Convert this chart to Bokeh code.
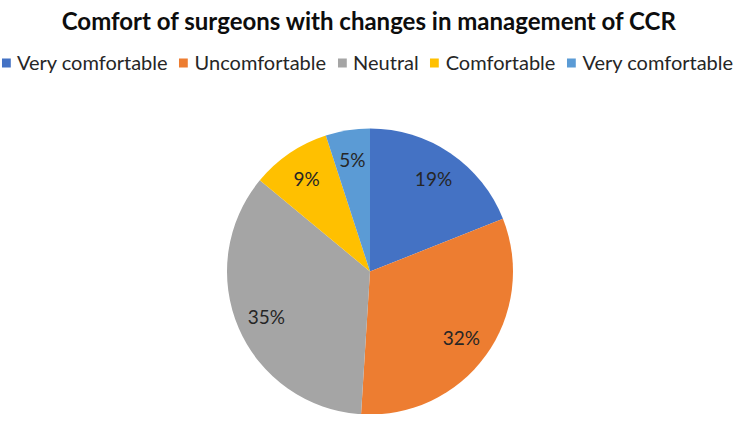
import numpy as np
from bokeh.plotting import figure
from bokeh.models import ColumnDataSource, Legend, LegendItem, Range1d
from bokeh.core.properties import value
from bokeh.embed import file_html
from bokeh.resources import INLINE

title_text = "Comfort of surgeons with changes in management of CCR"
categories = ["Very comfortable", "Uncomfortable", "Neutral", "Comfortable", "Very comfortable"]
percent = [19, 32, 35, 9, 5]
colors = ["#4472C4", "#ED7D31", "#A5A5A5", "#FFC000", "#5B9BD5"]

W, H = 733, 414
p = figure(width=W, height=H, output_backend="svg", toolbar_location=None,
           x_range=Range1d(0, W), y_range=Range1d(0, H), min_border=0)
p.axis.visible = False
p.grid.visible = False
p.outline_line_color = None


def fx(xr):
    return xr


def fy(yr):
    return H - yr


cx, cy, r = fx(369.5), fy(271), 143
frac = np.array(percent, dtype=float) / sum(percent)
cum = np.concatenate([[0.0], np.cumsum(frac)])
start = np.pi / 2 - 2 * np.pi * cum[:-1]
end = np.pi / 2 - 2 * np.pi * cum[1:]
mid = (start + end) / 2
lr = 0.79 * r
src = ColumnDataSource(dict(start=start, end=end, color=colors, cat=categories,
                            lx=cx + lr * np.cos(mid), ly=cy + lr * np.sin(mid),
                            lab=[f"{v}%" for v in percent]))

wr = p.wedge(x=cx, y=cy, radius=r, start_angle="start", end_angle="end",
             direction="clock", fill_color="color", line_color=None, source=src)

p.text(x="lx", y="ly", text="lab", source=src, text_align="center",
       text_baseline="middle", text_font=value("Lato"), text_font_size="19px",
       text_color="#262626")

p.text(x=[fx(369)], y=[fy(20)], text=[title_text], text_align="center",
       text_baseline="alphabetic",
       text_font=value("Lato"), text_font_style="bold", text_font_size="24px",
       text_color="#0D0D0D")

items = [LegendItem(label=c, renderers=[wr], index=i) for i, c in enumerate(categories)]
legend = Legend(items=items, orientation="horizontal", location="top_center",
                margin=50, padding=0, spacing=10, label_standoff=6,
                glyph_width=11, glyph_height=11,
                label_text_font="Lato", label_text_font_size="20px",
                label_text_color="#262626", label_height=20,
                background_fill_alpha=0, border_line_alpha=0)
p.add_layout(legend)

open("out.html", "w").write(file_html(p, INLINE))
